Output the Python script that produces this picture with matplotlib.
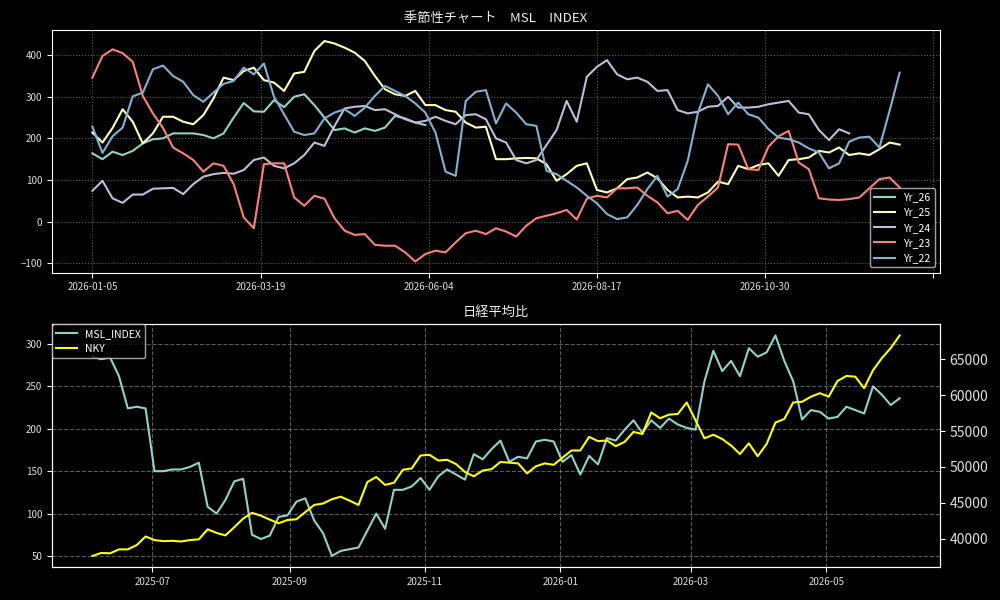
import matplotlib
matplotlib.use('Agg')
import matplotlib.pyplot as plt
import matplotlib.dates as mdates
import numpy as np
import pandas as pd

plt.style.use('dark_background')
plt.rcParams['font.family'] = ['Noto Sans CJK JP', 'DejaVu Sans']

# 季節性チャート : 営業日インデックス(3日おき)ごとの値
step = 3
year_labels = ['Yr_26', 'Yr_25', 'Yr_24', 'Yr_23', 'Yr_22']

yr26 = [164, 150, 168, 160, 170, 188, 198, 200, 212, 212, 212, 208, 200, 212, 250,
        285, 265, 264, 292, 275, 300, 306, 280, 250, 220, 224, 214, 224, 218, 226,
        254, 248, 238, 232]

yr25 = [214, 190, 225, 270, 240, 188, 212, 252, 252, 240, 234, 256, 296, 346, 340,
        362, 370, 340, 334, 314, 356, 360, 410, 434, 428, 418, 406, 386, 350, 318,
        306, 302, 314, 280, 280, 268, 264, 238, 226, 228, 150,
        150, 152, 153, 152, 138, 98, 114, 134, 140, 76, 70, 80, 102, 106, 118,
        104, 76, 58, 60, 58, 70, 96, 90, 134, 126, 136, 140, 110, 148, 150,
        154, 170, 166, 178, 160, 164, 160, 174, 190, 185]

yr24 = [74, 98, 56, 45, 65, 65, 79, 80, 81, 66, 90, 108, 114, 117, 115,
        124, 148, 154, 134, 128, 140, 160, 190, 182, 230, 272, 276, 278, 268, 270,
        258, 246, 238, 242, 252, 242, 234, 256, 258, 246, 200, 190, 148, 140, 148,
        184, 220, 290, 240, 348, 372, 388, 354, 342, 346, 336, 314, 316, 268, 260,
        264, 276, 278, 300, 274, 274, 276, 282, 286, 290, 262, 258, 220, 196, 222,
        212]

yr23 = [346, 398, 414, 405, 384, 302, 260, 225, 178, 164, 148, 120, 140, 134, 90,
        10, -16, 138, 140, 140, 58, 38, 62, 55, 8, -22, -32, -30, -56, -58,
        -58, -74, -96, -78, -70, -74, -50, -28, -22, -30, -16, -24, -36, -10, 8,
        14, 20, 28, 5, 55, 62, 58, 80, 80, 82, 62, 46, 20, 26, 4,
        40, 60, 82, 186, 185, 126, 124, 180, 205, 218, 142, 126, 56, 53, 52,
        54, 58, 80, 102, 106, 82]

yr22 = [228, 165, 205, 226, 301, 310, 366, 375, 350, 336, 304, 288, 310, 331, 338,
        370, 354, 380, 300, 258, 216, 208, 212, 248, 262, 270, 254, 274, 302, 326,
        314, 302, 284, 262, 214, 120, 110, 290, 312, 316, 236, 284, 262, 234, 230,
        122, 114, 98, 82, 62, 44, 18, 6, 10, 40, 78, 110, 60, 78, 146,
        260, 330, 302, 258, 286, 258, 250, 222, 202, 198, 190, 176, 166, 128, 140,
        192, 202, 204, 178, 266, 358]

seasonal = [yr26, yr25, yr24, yr23, yr22]

tick_pos = [0, 50, 100, 150, 200, 250]
tick_labels = ['2026-01-05', '2026-03-19', '2026-06-04', '2026-08-17', '2026-10-30', '']

# 日経平均比 : 4日おき
dates = pd.date_range('2025-06-04', periods=92, freq='4D')

msl = [285, 282, 284, 262, 224, 226, 224, 150, 150, 152, 152, 155, 160, 108, 100,
       116, 138, 141, 75, 70, 74, 96, 98, 114, 118, 92, 77, 50, 56, 58,
       60, 80, 100, 82, 128, 128, 132, 142, 128, 144, 152, 146, 140, 170, 164,
       176, 186, 161, 167, 165, 185, 187, 185, 161, 169, 146, 168, 158, 189, 186,
       199, 210, 195, 210, 201, 212, 205, 201, 199, 256, 292, 268, 280, 262, 295,
       285, 290, 310, 280, 256, 211, 222, 220, 212, 214, 226, 222, 218, 250, 240,
       228, 236]

nky = [37580, 38000, 37950, 38500, 38500, 39100, 40300, 39800, 39650, 39700,
       39600, 39800, 39900, 41300, 40800, 40450, 41600, 42800, 43600, 43200,
       42650, 42150, 42600, 42700, 43700, 44700, 44900, 45500, 45850, 45300,
       44700, 47900, 48600, 47500, 47800, 49600, 49800, 51600, 51700, 50900,
       51000, 50400, 49300, 48700, 49500, 49700, 50700,
       50600, 50500, 49100, 50100, 50500, 50300, 51300, 52300, 52300, 54200,
       53600, 53700, 52900, 53500, 54900, 54600, 57600, 56800, 57300, 57400,
       59000, 56500, 54000, 54500, 53900, 53000, 51800, 53300, 51500, 53200,
       56200, 56700, 59000, 59100, 59800, 60300, 59800, 62000, 62700, 62600,
       61000, 63500, 65200, 66600, 68350]

fig, (ax1, ax2) = plt.subplots(2, 1, figsize=(10, 6), dpi=100)
fig.subplots_adjust(left=0.052, right=0.94, top=0.95, bottom=0.055, hspace=0.214)

# 上段
for name, vals in zip(year_labels, seasonal):
    ax1.plot(np.arange(len(vals)) * step, vals, label=name, lw=1.5)
ax1.set_xticks(tick_pos)
ax1.set_xticklabels(tick_labels)
ax1.set_yticks([-100, 0, 100, 200, 300, 400])
ax1.tick_params(labelsize=7, labelcolor='#dddddd')
ax1.grid(True, linestyle=':', color='gray', alpha=0.7)
ax1.set_title('季節性チャート\u3000MSL\u3000INDEX', fontsize=9.5, color='#eeeeee')
ax1.legend(loc='lower right', fontsize=7.5)

# 下段
l1 = ax2.plot(dates, msl, color='#8dd3c7', lw=1.5, label='MSL_INDEX')
ax2.set_yticks([50, 100, 150, 200, 250, 300])
ax2.tick_params(labelsize=7, labelcolor='#dddddd')
ax2.xaxis.set_major_locator(mdates.MonthLocator(bymonth=[1, 3, 5, 7, 9, 11]))
ax2.xaxis.set_major_formatter(mdates.DateFormatter('%Y-%m'))
ax2.grid(True, linestyle='--', color='gray', alpha=0.7)
ax2.set_title('日経平均比', fontsize=9.5, color='#eeeeee')

ax3 = ax2.twinx()
l2 = ax3.plot(dates, nky, color='yellow', lw=1.5, label='NKY')
ax3.tick_params(labelcolor='#dddddd')
lines = l1 + l2
ax3.legend(lines, [l.get_label() for l in lines], loc='upper left',
           fontsize=7.5, borderaxespad=0)

plt.savefig('out.png')
